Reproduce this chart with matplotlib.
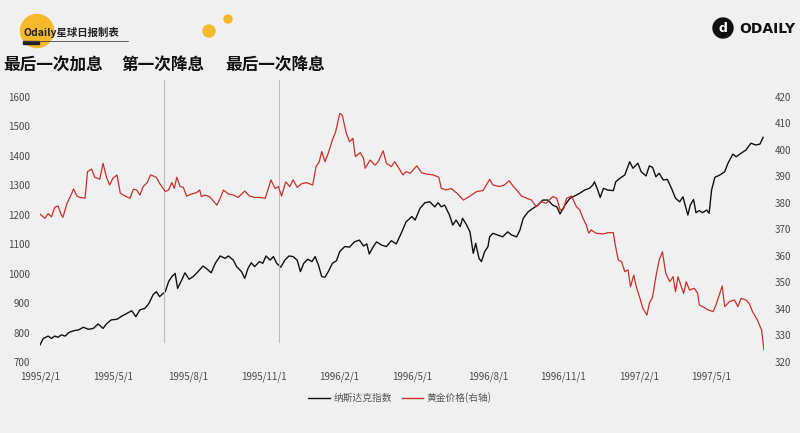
import numpy as np
import pandas as pd
import matplotlib
matplotlib.use("Agg")
import matplotlib.pyplot as plt
from matplotlib.patches import Ellipse, Rectangle
from matplotlib.lines import Line2D

plt.rcParams['font.family'] = ['Noto Sans CJK SC', 'DejaVu Sans']

START = pd.Timestamp('1995-02-01')

# days after 1995/2/1 and Nasdaq index level
nasdaq_days = [0, 4, 10, 14, 18, 22, 26, 31, 35, 41, 47, 53, 59, 65, 71, 77, 81, 87, 94, 100,
               106, 112, 117, 122, 128, 133, 138, 142, 146, 153, 157, 161, 165, 168, 173, 177, 182, 187, 193, 199,
               203, 209, 214, 220, 226, 230, 236, 240, 246, 250, 254, 258, 262, 268, 272, 276, 281, 285, 289, 294,
               299, 304, 309, 314, 318, 322, 327, 332, 336, 340, 344, 348, 352, 357, 362, 366, 372, 378, 384, 390,
               395, 399, 402, 407, 411, 417, 423, 429, 435, 441, 447, 454, 458, 464, 470, 476, 482, 486, 490, 494,
               500, 504, 508, 513, 516, 521, 525, 529, 532, 536, 539, 543, 547, 549, 553, 559, 565, 571, 576, 582,
               586, 590, 596, 602, 608, 614, 620, 626, 631, 635, 641, 647, 653, 659, 665, 671, 675, 677, 681, 684,
               688, 693, 700, 703, 708, 714, 720, 724, 730, 734, 740, 744, 748, 752, 756, 761, 766, 771, 776, 781,
               785, 791, 794, 798, 801, 805, 809, 814, 817, 820, 824, 830, 836, 840, 846, 850, 856, 862, 868, 874,
               879, 883]
nasdaq = [758, 780, 788, 780, 788, 784, 792, 788, 800, 806, 809, 818, 811, 814, 829, 814, 829, 843, 845, 856,
          865, 874, 854, 877, 882, 899, 928, 939, 922, 939, 973, 990, 1001, 950, 978, 1003, 981, 990, 1007, 1026,
          1018, 1003, 1035, 1060, 1052, 1060, 1046, 1024, 1007, 984, 1018, 1037, 1024, 1041, 1035, 1060, 1046, 1058, 1035, 1022,
          1046, 1060, 1058, 1046, 1007, 1035, 1049, 1041, 1058, 1029, 990, 988, 1007, 1035, 1044, 1075, 1092, 1090, 1108, 1114,
          1094, 1101, 1067, 1092, 1108, 1097, 1092, 1112, 1101, 1137, 1176, 1194, 1182, 1222, 1241, 1244, 1227, 1241, 1227, 1233,
          1199, 1165, 1182, 1160, 1188, 1165, 1142, 1069, 1103, 1052, 1041, 1075, 1092, 1125, 1137, 1131, 1125, 1142, 1131, 1125,
          1148, 1188, 1210, 1222, 1233, 1250, 1250, 1233, 1227, 1203, 1233, 1256, 1264, 1273, 1284, 1290, 1301, 1312, 1284, 1259,
          1290, 1284, 1282, 1312, 1324, 1335, 1380, 1358, 1375, 1346, 1332, 1366, 1361, 1329, 1341, 1318, 1320, 1290, 1256, 1244,
          1261, 1199, 1233, 1252, 1207, 1214, 1207, 1216, 1205, 1284, 1327, 1335, 1346, 1375, 1406, 1397, 1409, 1420, 1443, 1437,
          1440, 1463]

# days after 1995/2/1 and gold price (right axis)
gold_days = [0, 6, 10, 14, 18, 22, 26, 28, 33, 37, 41, 45, 49, 55, 58, 63, 67, 73, 77, 81,
             85, 89, 94, 98, 104, 110, 114, 118, 122, 126, 131, 135, 142, 146, 153, 157, 161, 164, 167, 171,
             175, 179, 185, 191, 195, 197, 201, 207, 216, 220, 224, 230, 236, 242, 250, 256, 262, 268, 275, 277,
             282, 287, 291, 295, 300, 305, 309, 314, 319, 325, 333, 337, 341, 344, 348, 352, 357, 361, 366, 369,
             374, 378, 382, 385, 391, 395, 397, 403, 409, 413, 419, 423, 429, 433, 437, 443, 447, 452, 460, 466,
             472, 480, 487, 490, 496, 502, 509, 517, 525, 533, 541, 549, 553, 561, 567, 573, 578, 582, 588, 594,
             600, 606, 612, 618, 626, 631, 635, 639, 643, 649, 655, 659, 663, 667, 670, 673, 679, 687, 694, 700,
             702, 706, 710, 714, 718, 721, 725, 728, 732, 736, 741, 744, 748, 752, 756, 760, 764, 769, 773, 776,
             779, 783, 786, 789, 793, 799, 803, 805, 809, 816, 822, 826, 830, 833, 836, 842, 848, 852, 856, 862,
             866, 870, 876, 881, 884]
gold = [375.8, 374.2, 376.0, 374.8, 378.4, 378.9, 375.5, 374.6, 379.9, 382.4, 385.3, 382.6, 382.1, 381.8, 391.8, 392.8, 389.7, 389.0, 395.0, 389.9,
        386.8, 389.3, 390.6, 383.7, 382.6, 381.8, 385.2, 384.9, 383.0, 386.2, 387.7, 390.6, 389.7, 387.4, 384.3, 384.9, 387.7, 385.5, 389.7, 386.2,
        385.9, 382.6, 383.4, 383.9, 384.9, 382.4, 383.0, 382.4, 379.2, 381.8, 384.9, 383.4, 383.0, 382.1, 384.5, 382.6, 382.1, 382.1, 381.8, 383.7,
        388.7, 385.5, 386.2, 382.6, 388.0, 386.2, 388.7, 385.9, 387.2, 387.7, 386.8, 393.7, 395.6, 399.4, 395.6, 398.8, 403.8, 406.9, 413.8, 413.2,
        406.3, 403.1, 404.4, 397.5, 399.0, 396.9, 393.1, 396.2, 394.3, 395.6, 399.7, 395.0, 393.7, 395.6, 393.7, 390.6, 391.8, 391.2, 394.0, 391.4,
        390.9, 390.6, 389.7, 385.5, 384.9, 385.5, 383.7, 381.1, 382.6, 384.3, 384.7, 388.9, 386.8, 386.2, 386.8, 388.4, 386.2, 384.9, 382.6, 381.8,
        381.1, 378.6, 380.5, 379.9, 382.4, 381.8, 377.4, 377.6, 381.8, 382.6, 378.6, 377.4, 374.2, 371.7, 368.6, 369.8, 368.6, 368.3, 368.8, 368.8,
        364.8, 358.5, 357.8, 354.1, 354.7, 348.4, 352.8, 348.4, 344.6, 340.3, 337.7, 342.1, 344.6, 352.2, 358.5, 361.6, 353.5, 350.3, 352.2, 346.5,
        352.2, 348.4, 345.9, 350.3, 347.2, 347.8, 345.9, 341.5, 340.9, 339.6, 339.0, 342.1, 345.9, 348.7, 340.9, 342.8, 343.4, 340.9, 344.0, 343.4,
        342.1, 339.0, 335.8, 332.1, 324.5]

tick_dates = ['1995-02-01', '1995-05-01', '1995-08-01', '1995-11-01', '1996-02-01',
              '1996-05-01', '1996-08-01', '1996-11-01', '1997-02-01', '1997-05-01']
event_dates = ['1995-07-03', '1995-11-20']
event_labels = ['最后一次加息', '第一次降息', '最后一次降息']

bg = '#f0f0f0'
red = '#c8302a'
yellow = '#f6b92c'
tick_col = '#4a4a4a'
W, H = 800, 433

nq_x = START + pd.to_timedelta(nasdaq_days, unit='D')
au_x = START + pd.to_timedelta(gold_days, unit='D')

fig = plt.figure(figsize=(8, 4.33), dpi=100, facecolor=bg)
ax = fig.add_axes([0.05, 0.164, 0.905, 0.612])
ax.set_facecolor(bg)
ax2 = ax.twinx()

ax.plot(nq_x, nasdaq, color='#111111', lw=1.0)
ax2.plot(au_x, gold, color=red, lw=0.9)

ax.set_ylim(700, 1600)
ax.set_yticks(np.arange(700, 1601, 100))
ax2.set_ylim(320, 420)
ax2.set_yticks(np.arange(320, 421, 10))
ax.set_xlim(START, START + pd.Timedelta(days=884))
ticks = pd.to_datetime(tick_dates)
ax.set_xticks(ticks)
ax.set_xticklabels([f"{d.year}/{d.month}/{d.day}" for d in ticks])

for a in (ax, ax2):
    for s in a.spines.values():
        s.set_visible(False)
    a.tick_params(length=0, labelsize=7, colors=tick_col)
ax.tick_params(axis='y', pad=7)
ax2.tick_params(axis='y', pad=8)
ax.tick_params(axis='x', pad=7)

for d in event_dates:
    ax.axvline(pd.Timestamp(d), ymin=0.075, ymax=1.064, color='#bdbdbd', lw=0.8, clip_on=False)

# annotations above the plot
for xp, lab in zip([3, 121, 225], event_labels):
    fig.text(xp / W, 1 - 65 / H, lab, fontsize=12, fontweight='bold', va='center', ha='left', color='#111111')


def dot(cx, cy, r, color):
    # circle given in pixels, drawn in figure fraction
    fig.patches.append(Ellipse((cx / W, 1 - cy / H), 2 * r / W, 2 * r / H,
                               transform=fig.transFigure, color=color, zorder=0))


# header badge
dot(37, 31, 16.5, yellow)
dot(209, 31, 6, yellow)
dot(228, 19, 4, yellow)
fig.text(23 / W, 1 - 32 / H, 'Odaily星球日报制表', fontsize=7.5, fontweight='bold',
         va='center', ha='left', color='#222222')
fig.add_artist(Line2D([23 / W, 128 / W], [1 - 41 / H] * 2, color='#444444', lw=0.6))
fig.patches.append(Rectangle((23 / W, 1 - 44 / H), 16 / W, 3 / H, transform=fig.transFigure,
                             color='#222222'))

# logo top right
dot(723, 28, 10, '#111111')
fig.text(723 / W, 1 - 28.5 / H, 'd', fontsize=9, fontweight='bold', color='white',
         ha='center', va='center', family='DejaVu Sans')
fig.text(739 / W, 1 - 29 / H, 'ODAILY', fontsize=10, fontweight='bold', color='#111111',
         ha='left', va='center', family='DejaVu Sans')

handles = [Line2D([], [], color='#111111', lw=1.0), Line2D([], [], color=red, lw=1.0)]
fig.legend(handles, ['纳斯达克指数', '黄金价格(右轴)'], loc='center', bbox_to_anchor=(0.5, 1 - 398 / H),
           ncol=2, frameon=False, fontsize=7, handlelength=2.2, columnspacing=1.0, handletextpad=0.4,
           labelcolor='#555555')

fig.savefig('out.png', dpi=100, facecolor=bg)
